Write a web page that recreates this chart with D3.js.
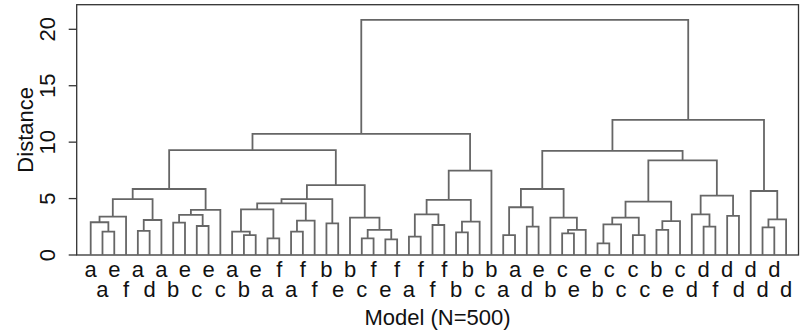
<!DOCTYPE html>
<html>
<head>
<meta charset="utf-8">
<script src="https://cdn.jsdelivr.net/npm/d3@7"></script>
<style>
  body { margin: 0; background: #fff; }
  text { font-family: "Liberation Sans", Arial, sans-serif; fill: #111; }
</style>
</head>
<body>
<svg id="chart" width="800" height="336"></svg>
<script>
// leaf labels, left to right
const leafLabels = [
  "a","a","e","f","a","d","a","b","e","c","e","c","a","b","e","a","f","a","f","f",
  "b","e","b","c","f","e","f","a","f","f","f","b","b","c","b","a","a","d","e","b",
  "c","e","e","b","c","c","c","c","b","e","c","d","d","f","d","d","d","d","d","d"
];

// hclust-style merges: negative = leaf number, positive = earlier merge step
const merges = [
  [-2,-3],[-1,1],[2,-4],[-5,-6],[4,-7],[3,5],[-8,-9],[-10,-11],[7,8],[9,-12],[6,10],
  [-14,-15],[-13,12],[-16,-17],[13,14],[-18,-19],[16,-20],[15,17],[-21,-22],[18,19],
  [-24,-25],[-26,-27],[21,22],[-23,23],[20,24],[11,25],
  [-28,-29],[-30,-31],[27,28],[-32,-33],[30,-34],[29,31],[32,-35],[26,33],
  [-36,-37],[-38,-39],[35,36],[-41,-42],[38,-43],[-40,39],[37,40],
  [-44,-45],[42,-46],[-47,-48],[43,44],[-49,-50],[46,-51],[45,47],
  [-53,-54],[-52,49],[-55,-56],[50,51],[48,52],[41,53],
  [-58,-59],[55,-60],[-57,56],[54,57],[34,58]
];
const heights = [
  2.07,2.90,3.40,2.13,3.10,4.96,2.87,2.57,3.55,3.99,5.85,
  1.77,2.07,1.48,4.05,2.07,3.04,4.58,2.80,4.96,
  1.48,1.39,2.22,3.31,6.20,9.30,
  1.63,2.66,3.60,2.00,2.96,4.88,7.47,10.73,
  1.77,2.51,4.23,1.92,2.22,3.31,5.85,
  1.03,2.72,1.77,3.31,2.22,3.01,4.73,
  2.51,3.60,3.46,5.26,8.39,9.22,
  2.45,3.16,5.67,11.97,20.83
];
const yTicks = [0, 5, 10, 15, 20];

// build the tree
const steps = [];
const ref = i => i < 0 ? { name: leafLabels[-i - 1], height: 0 } : steps[i - 1];
merges.forEach((m, k) => steps.push({ height: heights[k], children: [ref(m[0]), ref(m[1])] }));
const root = d3.hierarchy(steps[steps.length - 1]);
d3.cluster().size([leafLabels.length, 1]).separation(() => 1)(root);

const svg = d3.select("#chart");
const box = { left: 76.7, right: 798.5, top: 4.7, bottom: 255 };

const x = d3.scaleLinear()
    .domain([0.5, leafLabels.length - 0.5])
    .range([90.7, 786.1]);
const y = d3.scaleLinear()
    .domain([0, 20])
    .range([255, 29.3]);

// frame
svg.append("rect")
    .attr("x", box.left).attr("y", box.top)
    .attr("width", box.right - box.left).attr("height", box.bottom - box.top)
    .attr("fill", "none").attr("stroke", "#333").attr("stroke-width", 1.3);

// dendrogram branches
svg.append("g")
    .selectAll("path")
    .data(root.descendants().filter(d => d.children))
    .enter().append("path")
    .attr("fill", "none")
    .attr("stroke", "#666")
    .attr("stroke-width", 1.8)
    .attr("d", d => {
        const [a, b] = d.children;
        return `M${x(a.x)},${y(a.data.height)}V${y(d.data.height)}H${x(b.x)}V${y(b.data.height)}`;
    });

// y axis
const yAxis = svg.append("g");
yAxis.selectAll("line")
    .data(yTicks)
    .enter().append("line")
    .attr("x1", box.left - 8).attr("x2", box.left)
    .attr("y1", d => y(d)).attr("y2", d => y(d))
    .attr("stroke", "#333").attr("stroke-width", 1.3);
yAxis.selectAll("text")
    .data(yTicks)
    .enter().append("text")
    .attr("transform", d => `translate(55,${y(d)}) rotate(-90)`)
    .attr("text-anchor", "middle")
    .style("font-size", "22px")
    .text(d => d);

// leaf labels, alternating rows
svg.append("g")
    .selectAll("text")
    .data(root.leaves())
    .enter().append("text")
    .attr("x", d => x(d.x))
    .attr("y", (d, i) => i % 2 === 0 ? 277 : 297)
    .attr("text-anchor", "middle")
    .style("font-size", "22px")
    .text(d => d.data.name);

// axis titles
svg.append("text")
    .attr("x", (box.left + box.right) / 2).attr("y", 325)
    .attr("text-anchor", "middle")
    .style("font-size", "22px")
    .text("Model (N=500)");
svg.append("text")
    .attr("transform", `translate(33,${(box.top + box.bottom) / 2}) rotate(-90)`)
    .attr("text-anchor", "middle")
    .style("font-size", "22px")
    .text("Distance");
</script>
</body>
</html>
